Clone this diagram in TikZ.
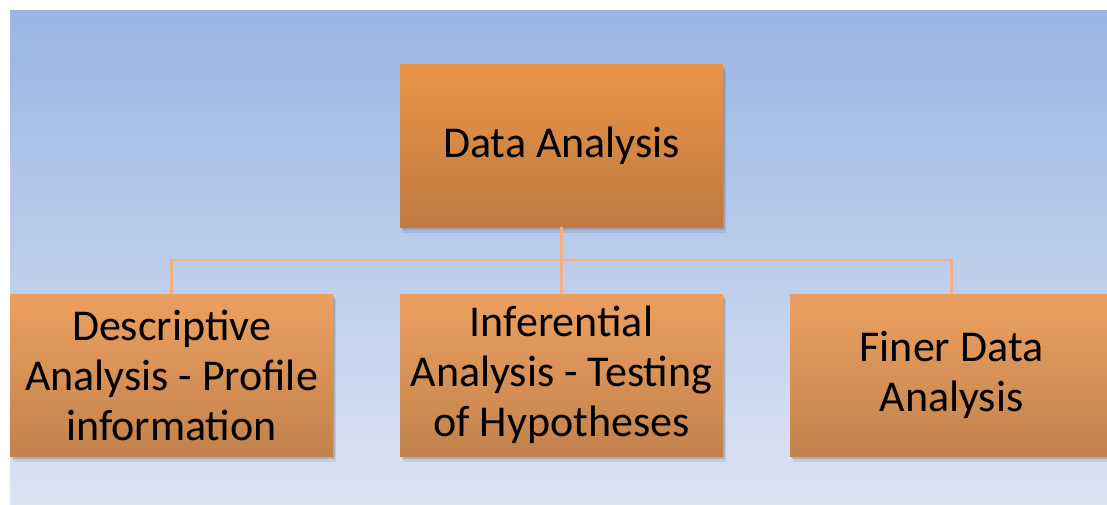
\documentclass[tikz,border=0pt]{standalone}
\usepackage{fontspec}
\setmainfont{Carlito}
\definecolor{bgtop}{RGB}{154,181,227}
\definecolor{bgbot}{RGB}{223,230,244}
\definecolor{boxtopA}{RGB}{233,148,72}
\definecolor{boxbotA}{RGB}{192,122,64}
\definecolor{boxtopB}{RGB}{236,160,96}
\definecolor{boxbotB}{RGB}{194,130,76}
\definecolor{conncol}{RGB}{243,176,130}
\definecolor{shadowcol}{RGB}{60,70,90}
\tikzset{
  box/.style={rectangle, minimum width=323pt, minimum height=162pt, inner sep=0pt,
    align=center, font=\fontsize{44}{50}\selectfont, text=black,
    preaction={fill=shadowcol, fill opacity=0.12, transform canvas={shift={(3pt,-6pt)}}},
    preaction={fill=shadowcol, fill opacity=0.2, transform canvas={shift={(2pt,-3pt)}}}},
  topbox/.style={box, top color=boxtopA, bottom color=boxbotA},
  subbox/.style={box, top color=boxtopB, bottom color=boxbotB},
  conn/.style={draw=conncol, line width=2.2pt}
}
\begin{document}
\begin{tikzpicture}[x=1pt,y=1pt]
\useasboundingbox (0,0) rectangle (1107,504);
\begin{scope}
\clip (0,0) rectangle (1107,504);
\fill[white] (0,0) rectangle (1107,504);
\shade[top color=bgtop, bottom color=bgbot] (10,-20) rectangle (1127,493);
\node[topbox] (top) at (561.5,358) {Data Analysis};
\node[subbox] (left) at (171.5,129) {Descriptive\\Analysis - Profile\\information};
\node[subbox] (mid) at (561.5,129) {Inferential\\Analysis - Testing\\of Hypotheses};
\node[subbox] (right) at (951.5,129) {Finer Data\\Analysis};
\coordinate (bus) at (561.5,244);
\draw[conn] (top.south) -- (bus);
\draw[conn] (bus) -| (left.north);
\draw[conn] (bus) -| (right.north);
\draw[conn] (bus) -- (mid.north);
\end{scope}
\end{tikzpicture}
\end{document}
